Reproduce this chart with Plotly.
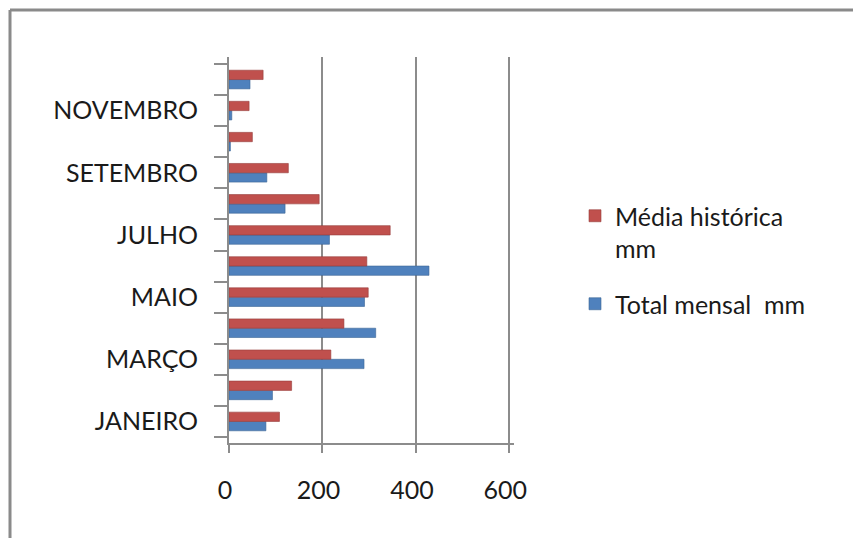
import plotly.graph_objects as go

# Monthly rainfall: historical mean vs. monthly total (mm)
meses = ["JANEIRO", "FEVEREIRO", "MARÇO", "ABRIL", "MAIO", "JUNHO",
         "JULHO", "AGOSTO", "SETEMBRO", "OUTUBRO", "NOVEMBRO", "DEZEMBRO"]
media_historica = [108, 134, 218, 246, 298, 295, 345, 193, 127, 50, 43, 73]
total_mensal = [79, 93, 289, 314, 290, 428, 215, 120, 81, 3, 6, 45]
rotulos = [m if i % 2 == 0 else "" for i, m in enumerate(meses)]
x_ticks = [0, 200, 400, 600]
x_max = 610

W, H = 853, 538
PX_PER_MM = 0.468
L, T, B = 229, 57, 95
R = W - L - round(x_max * PX_PER_MM)
pw, ph = W - L - R, H - T - B

def px_x(v):
    return (v - L) / pw

def px_y(v):
    return (H - B - v) / ph

FONT = "Lato"
GRAY = "#8c8c8c"

fig = go.Figure()
fig.add_trace(go.Bar(
    y=meses, x=total_mensal, orientation="h", name="Total mensal  mm",
    legendgroup="total", legendrank=2,
    marker=dict(color="#4F81BD", line=dict(color="#3a6596", width=0.6)),
))
fig.add_trace(go.Bar(
    y=meses, x=media_historica, orientation="h", name="Média histórica<br>mm",
    legendgroup="media", legendrank=1,
    marker=dict(color="#C0504D", line=dict(color="#963c3a", width=0.6)),
))

fig.update_layout(
    width=W, height=H,
    margin=dict(l=L, r=R, t=T, b=B),
    paper_bgcolor="white", plot_bgcolor="white",
    barmode="group", bargap=0.4, bargroupgap=0.0,
    font=dict(family=FONT, size=25, color="#1a1a1a"),
    legend=dict(
        x=px_x(575), y=px_y(193), xanchor="left", yanchor="top",
        traceorder="grouped", font=dict(size=25), valign="top",
        tracegroupgap=20, itemwidth=30,
    ),
    xaxis=dict(
        range=[0, x_max], tickvals=x_ticks, ticktext=[str(v) for v in x_ticks],
        showgrid=True, gridcolor=GRAY, gridwidth=2,
        showline=True, linecolor=GRAY, linewidth=2,
        ticks="outside", ticklen=8, tickcolor=GRAY, tickwidth=2,
        ticklabelstandoff=16, ticklabelshift=-4,
        zeroline=False, fixedrange=True,
    ),
    yaxis=dict(
        type="category", categoryorder="array", categoryarray=meses,
        range=[-0.5 - 6 / 31.1, 11.5 + 7 / 31.1],
        tickvals=meses, ticktext=rotulos, tickson="boundaries",
        ticks="outside", ticklen=13, tickcolor=GRAY, tickwidth=2,
        showline=True, linecolor=GRAY, linewidth=2,
        ticklabelstandoff=24, showgrid=False, fixedrange=True,
    ),
)

# Chart-area frame (top and left edges visible)
fig.add_shape(type="line", xref="paper", yref="paper",
              x0=px_x(10), x1=px_x(W + 5), y0=px_y(10), y1=px_y(10),
              line=dict(color="#8a8a8a", width=3), layer="above")
fig.add_shape(type="line", xref="paper", yref="paper",
              x0=px_x(10), x1=px_x(10), y0=px_y(10), y1=px_y(H + 5),
              line=dict(color="#8a8a8a", width=3), layer="above")

fig.write_html("out.html")
